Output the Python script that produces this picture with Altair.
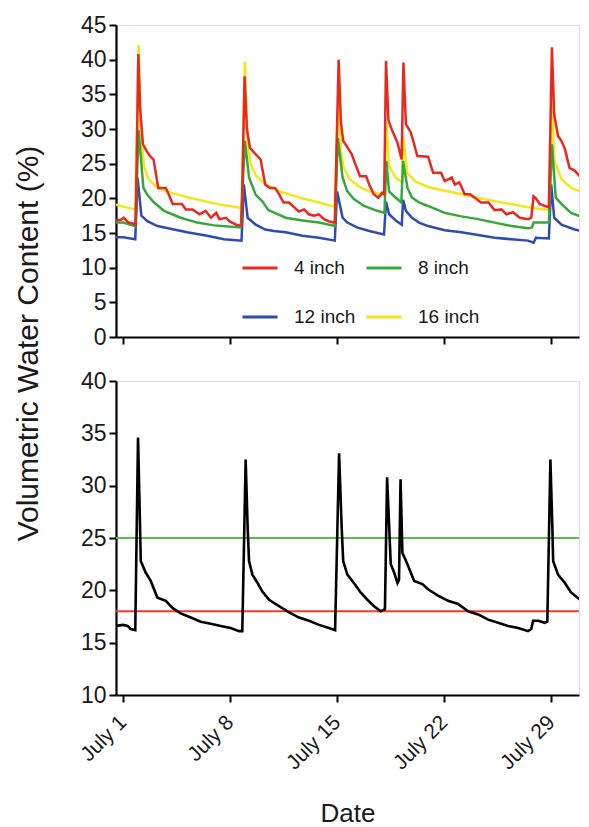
import altair as alt
import pandas as pd

FONT = "Liberation Sans"

# ---- data: (day of July, volumetric water content %) ----
depths = ["4 inch", "8 inch", "12 inch", "16 inch"]
depth_colors = ["#e8291f", "#36a83a", "#2d4bb0", "#f3e61c"]

vwc_16in = [(0.54, 19.1), (1.0, 18.8), (1.8, 18.4), (2.02, 42.1), (2.15, 30.0), (2.37, 24.6),
            (2.65, 22.8), (3.25, 21.5), (4.0, 20.9), (4.8, 20.4), (5.5, 20.0), (6.5, 19.5),
            (7.3, 19.1), (8.0, 18.9), (8.75, 18.6), (8.97, 39.7), (9.15, 28.0), (9.35, 25.0),
            (9.68, 23.3), (10.3, 22.0), (10.87, 21.4), (11.5, 20.8), (12.73, 20.0), (13.8, 19.4),
            (14.85, 18.8), (15.1, 36.0), (15.25, 27.0), (15.4, 24.6), (15.8, 22.8), (16.5, 21.6),
            (17.1, 21.0), (17.96, 20.6), (18.1, 20.5), (18.22, 31.0), (18.4, 24.6), (18.84, 23.0),
            (19.23, 22.3), (19.32, 29.0), (19.6, 23.6), (20.14, 22.4), (21.0, 21.6), (23.13, 20.6),
            (25.31, 19.6), (27.49, 18.7), (28.85, 18.3), (29.05, 36.0), (29.2, 25.5), (29.67, 22.8),
            (30.3, 21.5), (31.41, 20.6)]

vwc_12in = [(0.54, 14.4), (1.0, 14.4), (1.8, 14.1), (1.95, 23.0), (2.2, 17.5), (2.59, 16.7),
            (3.25, 16.0), (4.1, 15.6), (5.2, 15.1), (6.5, 14.6), (7.6, 14.1), (8.75, 13.9),
            (8.9, 22.0), (9.15, 17.2), (9.68, 16.2), (10.3, 15.5), (10.87, 15.3), (11.64, 15.1),
            (12.73, 14.6), (13.82, 14.3), (14.85, 13.9), (15.0, 21.0), (15.36, 17.2), (15.67, 16.5),
            (16.3, 15.8), (17.1, 15.3), (18.07, 14.8), (18.2, 19.5), (18.4, 17.7), (18.84, 16.8),
            (19.23, 16.2), (19.32, 19.8), (19.5, 18.2), (19.9, 17.2), (20.36, 16.5), (20.95, 16.0),
            (22.04, 15.4), (23.13, 15.1), (24.22, 14.7), (25.3, 14.3), (26.4, 14.1), (27.49, 13.9),
            (27.85, 13.6), (28.0, 14.3), (28.85, 14.2), (29.0, 22.0), (29.2, 17.2), (29.67, 16.2),
            (30.54, 15.5), (31.41, 15.1)]

vwc_8in = [(0.54, 16.5), (1.0, 16.5), (1.8, 16.0), (2.02, 29.8), (2.33, 21.5), (2.59, 20.5),
           (3.03, 19.4), (3.68, 18.2), (4.77, 17.2), (5.86, 16.5), (6.96, 16.1), (8.7, 15.8),
           (8.97, 28.3), (9.24, 23.0), (9.68, 20.5), (10.1, 19.6), (10.5, 18.3), (11.64, 17.2),
           (12.73, 16.8), (13.82, 16.5), (14.85, 16.0), (15.05, 28.7), (15.36, 23.0), (15.67, 21.0),
           (16.1, 19.9), (16.76, 18.9), (17.63, 18.2), (18.1, 17.9), (18.22, 25.4), (18.4, 21.0),
           (18.73, 20.3), (19.2, 19.4), (19.32, 25.4), (19.6, 21.5), (19.9, 20.1), (20.36, 19.4),
           (20.95, 18.9), (22.04, 17.9), (23.13, 17.4), (24.22, 17.0), (25.3, 16.5), (26.4, 16.0),
           (27.49, 15.7), (27.75, 15.8), (27.85, 16.5), (28.85, 16.5), (29.05, 27.8), (29.3, 20.1),
           (29.67, 19.2), (30.3, 17.9), (31.41, 17.0)]

vwc_4in = [(0.54, 16.8), (0.85, 16.9), (1.05, 17.2), (1.35, 16.5), (1.6, 16.4), (1.83, 16.2),
           (2.0, 40.8), (2.12, 33.0), (2.3, 27.8), (2.55, 26.8), (2.8, 26.0), (3.0, 25.6),
           (3.3, 21.5), (3.8, 21.5), (4.0, 20.5), (4.25, 19.2), (4.85, 19.2), (5.1, 18.4),
           (5.55, 18.4), (6.0, 17.7), (6.4, 18.2), (6.75, 17.2), (7.1, 17.9), (7.3, 17.0),
           (7.75, 17.2), (7.95, 16.7), (8.4, 16.2), (8.75, 16.1), (8.95, 37.6), (9.1, 30.0),
           (9.3, 27.3), (9.65, 26.4), (10.0, 25.6), (10.3, 22.0), (10.6, 21.5), (10.95, 21.5),
           (11.2, 20.6), (11.5, 19.4), (11.85, 19.4), (12.2, 18.7), (12.5, 18.1), (12.85, 18.4),
           (13.15, 17.7), (13.5, 17.5), (13.8, 17.7), (14.15, 17.0), (14.45, 16.7), (14.85, 16.5),
           (15.1, 40.0), (15.25, 31.0), (15.4, 28.3), (15.75, 27.1), (15.95, 26.4), (16.2, 24.9),
           (16.5, 23.2), (16.9, 23.2), (17.1, 22.0), (17.4, 20.6), (17.7, 20.1), (17.95, 20.8),
           (18.08, 20.6), (18.2, 39.8), (18.36, 31.2), (18.62, 29.7), (18.95, 28.0), (19.22, 25.6),
           (19.34, 39.6), (19.5, 30.7), (19.82, 29.5), (20.04, 27.8), (20.25, 26.1), (20.95, 26.0),
           (21.28, 23.7), (21.8, 23.7), (22.04, 22.5), (22.5, 23.0), (22.7, 22.0), (23.0, 22.3),
           (23.35, 20.6), (23.7, 20.6), (24.0, 20.1), (24.4, 19.4), (24.9, 19.4), (25.3, 18.3),
           (25.75, 18.4), (26.07, 17.7), (26.5, 18.0), (26.95, 17.2), (27.49, 17.0), (27.7, 17.2),
           (27.85, 20.3), (28.0, 20.0), (28.25, 19.2), (28.85, 18.7), (29.05, 41.8), (29.2, 32.1),
           (29.45, 29.0), (29.67, 28.3), (29.9, 27.1), (30.2, 24.4), (30.54, 24.0), (30.87, 23.2),
           (31.2, 21.5), (31.41, 21.0)]

vwc_avg = [(0.54, 16.6), (1.0, 16.7), (1.3, 16.6), (1.5, 16.3), (1.8, 16.2), (1.98, 34.6),
           (2.1, 27.0), (2.16, 22.8), (2.48, 21.7), (2.81, 20.9), (3.25, 19.3), (3.8, 19.0),
           (4.25, 18.3), (4.77, 17.8), (5.43, 17.4), (6.08, 17.0), (6.74, 16.8), (7.39, 16.6),
           (8.04, 16.4), (8.59, 16.1), (8.8, 16.1), (9.02, 32.5), (9.15, 26.0), (9.24, 22.8),
           (9.46, 21.5), (9.8, 20.7), (10.1, 19.9), (10.55, 19.1), (11.2, 18.5), (11.86, 17.9),
           (12.51, 17.4), (13.16, 17.1), (13.82, 16.7), (14.47, 16.4), (14.87, 16.2), (15.13, 33.1),
           (15.3, 26.0), (15.4, 22.8), (15.67, 21.5), (16.1, 20.7), (16.54, 19.8), (16.98, 19.1),
           (17.4, 18.5), (17.85, 18.0), (18.13, 18.2), (18.27, 30.8), (18.51, 22.5), (18.73, 21.7),
           (18.95, 20.7), (19.05, 21.0), (19.15, 30.6), (19.27, 23.6), (19.6, 22.5), (20.04, 20.9),
           (20.58, 20.6), (20.95, 20.1), (21.6, 19.5), (22.26, 19.0), (22.91, 18.7), (23.57, 18.0),
           (24.22, 17.7), (24.88, 17.2), (25.53, 16.9), (26.18, 16.6), (26.84, 16.4), (27.49, 16.1),
           (27.7, 16.3), (27.82, 17.1), (28.15, 17.1), (28.58, 16.9), (28.75, 17.0), (28.95, 32.5),
           (29.08, 26.0), (29.13, 22.8), (29.45, 21.5), (29.9, 20.7), (30.3, 19.8), (30.98, 19.0),
           (31.41, 18.4)]

thresholds = [25, 18]
threshold_colors = ["#5cbd4c", "#ee3d2f"]

date_ticks = [1, 8, 15, 22, 29]
top_ticks = [0, 5, 10, 15, 20, 25, 30, 35, 40, 45]
bottom_ticks = [10, 15, 20, 25, 30, 35, 40]

W = 463
PX_PER_DAY = 15.29
x_domain = [0.54, 0.54 + W / PX_PER_DAY]

# ---- tables ----
series_in_draw_order = [("16 inch", vwc_16in), ("12 inch", vwc_12in),
                        ("8 inch", vwc_8in), ("4 inch", vwc_4in)]
rows = []
for name, pts in series_in_draw_order:
    for d, v in pts:
        rows.append({"depth": name, "day": d, "vwc": v})
df_top = pd.DataFrame(rows)
df_avg = pd.DataFrame([{"day": d, "vwc": v} for d, v in vwc_avg])
df_thr = pd.DataFrame({"level": thresholds, "c": threshold_colors})

x_scale = alt.Scale(domain=x_domain, nice=False, zero=False)
y_bottom_scale = alt.Scale(domain=[10, 40], nice=False, zero=False)

axis_common = dict(domainColor="black", domainWidth=2.2, tickColor="black", tickWidth=2,
                   tickSize=7, grid=False, labelColor="#1a1a1a", labelFont=FONT)

top = alt.Chart(df_top).mark_line(strokeWidth=2.5, clip=True).encode(
    x=alt.X("day:Q", scale=x_scale,
            axis=alt.Axis(values=date_ticks, labels=False, title=None, **axis_common)),
    y=alt.Y("vwc:Q", scale=alt.Scale(domain=[0, 45], nice=False),
            axis=alt.Axis(values=top_ticks, labelFontSize=23, labelPadding=3,
                          title="Volumetric Water Content (%)", titleFont=FONT,
                          titleFontSize=30, titleFontWeight="normal", titleColor="#1a1a1a",
                          titleX=-79, titleY=318, titleAlign="center",
                          titleBaseline="alphabetic", titleAngle=270, **axis_common)),
    color=alt.Color("depth:N", scale=alt.Scale(domain=depths, range=depth_colors),
                    legend=alt.Legend(title=None, orient="none", legendX=125, legendY=224,
                                      columns=2, direction="horizontal", symbolType="stroke",
                                      symbolSize=1225, symbolStrokeWidth=3, labelFontSize=19,
                                      labelFont=FONT, labelColor="#1a1a1a", labelOffset=15,
                                      columnPadding=4, rowPadding=20, padding=0)),
).properties(width=W, height=312)

avg_line = alt.Chart(df_avg).mark_line(strokeWidth=2.6, color="black", clip=True).encode(
    x=alt.X("day:Q", scale=x_scale,
            axis=alt.Axis(values=date_ticks, labelExpr="'July ' + datum.value", labelAngle=-45,
                          labelAlign="right", labelBaseline="middle", labelFontSize=21,
                          labelPadding=17, title="Date", titleFont=FONT, titleFontSize=26,
                          titleFontWeight="normal", titleColor="#1a1a1a", titleY=126,
                          titleBaseline="alphabetic", **axis_common)),
    y=alt.Y("vwc:Q", scale=y_bottom_scale,
            axis=alt.Axis(values=bottom_ticks, labelFontSize=23, labelPadding=3, title=None,
                          **axis_common)),
)
thr = alt.Chart(df_thr).mark_rule(strokeWidth=2.2).encode(
    y=alt.Y("level:Q", scale=y_bottom_scale),
    color=alt.Color("c:N", scale=None),
)
bottom = alt.layer(thr, avg_line).properties(width=W, height=314)

chart = alt.vconcat(top, bottom, spacing=44, bounds="flush").properties(
    padding={"left": 4, "top": 5, "right": 0, "bottom": 0}
).configure_view(stroke=None).configure(background="white")

chart.save("out.html", embed_options={"renderer": "svg", "actions": False})
